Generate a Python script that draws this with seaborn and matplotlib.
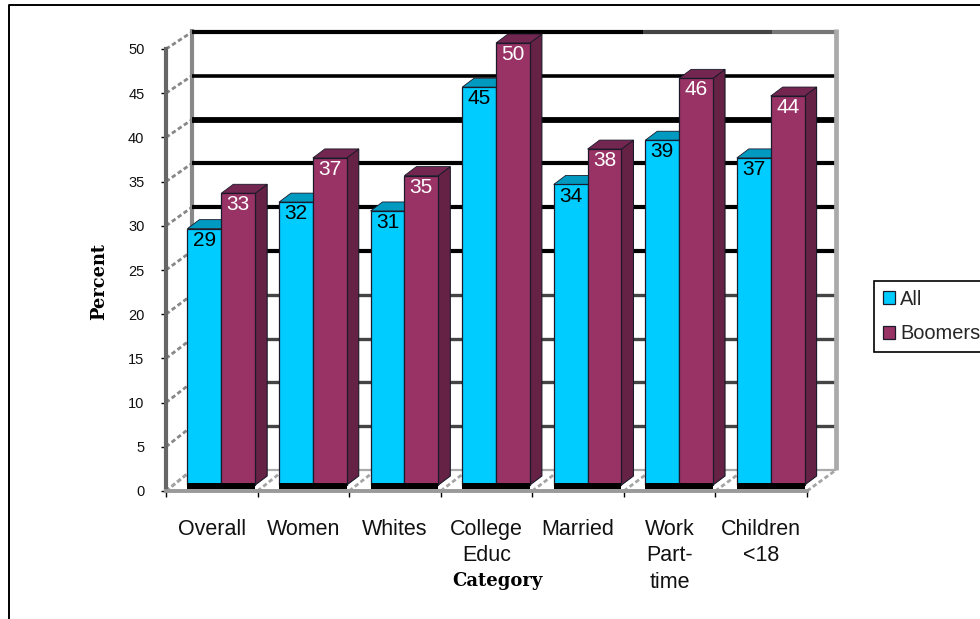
import matplotlib
matplotlib.use("Agg")
import matplotlib.pyplot as plt
import pandas as pd
import seaborn as sns
from matplotlib.lines import Line2D
from matplotlib.patches import Polygon, Rectangle
from matplotlib.transforms import Affine2D, IdentityTransform

categories = ["Overall", "Women", "Whites", "College\nEduc", "Married",
              "Work\nPart-\ntime", "Children\n<18"]
all_values = [29, 32, 31, 45, 34, 39, 37]
boomers_values = [33, 37, 35, 50, 38, 46, 44]
series_names = ["All", "Boomers"]
y_ticks = [0, 5, 10, 15, 20, 25, 30, 35, 40, 45, 50]

CYAN, CYAN_TOP = "#00CCFF", "#0099BF"
MAROON, MAROON_TOP, MAROON_SIDE = "#993366", "#732650", "#662244"
W, H = 980, 619


def box(left, top, right, bottom):
    return [left / W, 1 - bottom / H, (right - left) / W, (bottom - top) / H]


sns.set_theme(style="white")
plt.rcParams["font.family"] = ["Liberation Sans", "DejaVu Sans"]
fig = plt.figure(figsize=(W / 100, H / 100), dpi=100, facecolor="white")

# Back wall of the 3D frame, with its own gridlines
back = fig.add_axes(box(192, 32, 836, 470), zorder=1)
back.set_xlim(0, 1)
back.set_ylim(0, 50)
back.axis("off")
for v in y_ticks[1:-1]:
    dark = v > 20
    lw = {40: 4.2, 45: 2.6}.get(v, 3.0 if dark else 2.4)
    back.hlines(v, 0, 1, color="black" if dark else "#444444", lw=lw, clip_on=False, zorder=2)
# The top rule fades toward the right-hand corner
for start, stop, shade in [(0, 0.7, "black"), (0.7, 0.9, "#444444"), (0.9, 1, "#777777")]:
    back.hlines(50, start, stop, color=shade, lw=3.0, clip_on=False, zorder=2)
back.vlines([0], 0, 50.3, color="#888888", lw=3.0, clip_on=False, zorder=1)
back.vlines([1], 0, 50.3, color="#AAAAAA", lw=3.4, clip_on=False, zorder=3)

# Front plane: carries the bars, axis ticks and labels
ax = fig.add_axes(box(166, 49, 807, 491), zorder=2)
ax.patch.set_alpha(0)
df = pd.DataFrame({
    "Category": categories * 2,
    "Percent": all_values + boomers_values,
    "Series": [series_names[0]] * 7 + [series_names[1]] * 7,
})
sns.barplot(data=df, x="Category", y="Percent", hue="Series", order=categories,
            hue_order=series_names, palette=[CYAN, MAROON], width=0.74, gap=0,
            edgecolor="#1a1a2a", linewidth=0.9, saturation=1, ax=ax, legend=True, zorder=5)
ax.set_xlim(-0.5, 6.5)
ax.set_ylim(0, 50)

# Bars stand partway into the depth of the frame
bar_shift = Affine2D().translate(9.5, 6)
bar_trans = ax.transData + bar_shift
dx, dy = 12 / (641 / 7), 9 / (442 / 50)

bars = list(ax.patches)[:14]
for i, bar in enumerate(bars):
    is_all = i < 7
    x0, w, h = bar.get_x(), bar.get_width(), bar.get_height()
    bar.set_transform(bar_trans)
    bar.set_clip_on(False)
    bar.set_zorder(5 + i % 7 + (0 if is_all else 0.5))
    z = bar.get_zorder() - 0.1
    top = [(x0, h), (x0 + w, h), (x0 + w + dx, h + dy), (x0 + dx, h + dy)]
    side = [(x0 + w, 0), (x0 + w + dx, dy), (x0 + w + dx, h + dy), (x0 + w, h)]
    ax.add_patch(Polygon(side, closed=True, transform=bar_trans, clip_on=False, zorder=z,
                         fc=CYAN_TOP if is_all else MAROON_SIDE, ec="#1a1a2a", lw=0.8))
    ax.add_patch(Polygon(top, closed=True, transform=bar_trans, clip_on=False, zorder=z,
                         fc=CYAN_TOP if is_all else MAROON_TOP, ec="#1a1a2a", lw=0.6))
    if not is_all:
        ax.add_patch(Rectangle((x0 - w, -0.4), 2 * w, 0.6, transform=bar_trans,
                               clip_on=False, zorder=z + 0.2, fc="black", ec="none"))
    ax.annotate(f"{h:.0f}", (x0 + w / 2, h), xycoords=bar_trans, xytext=(0, -1.5),
                textcoords="offset points", ha="center", va="top", fontsize=15,
                color="black" if is_all else "white", zorder=20, annotation_clip=False)

# Side walls and floor join the front plane to the back wall
for v in y_ticks:
    a = ax.transData.transform((-0.5, v))
    b = back.transData.transform((0, v))
    back.add_line(Line2D([a[0], b[0]], [a[1], b[1]], transform=IdentityTransform(), clip_on=False,
                         color="#888888", lw=2.0, ls=(0, (1.6, 1.0)), zorder=1))
for k in range(8):
    a = ax.transData.transform((k - 0.5, 0))
    b = back.transData.transform((k / 7, 0))
    back.add_line(Line2D([a[0], b[0]], [a[1], b[1]], transform=IdentityTransform(), clip_on=False,
                         color="#A5A5A5", lw=2.0, ls=(0, (1.6, 1.0)), zorder=1))
back.hlines(0, 0, 1, color="#AAAAAA", lw=1.6, clip_on=False, zorder=1)

# Axes decoration
sns.despine(ax=ax, top=True, right=True)
ax.spines["left"].set(color="#666666", linewidth=3.0)
ax.spines["bottom"].set(color="#9A9A9A", linewidth=2.8)
ax.set_yticks(y_ticks)
ax.tick_params(axis="y", which="major", left=True, length=3.5, width=1, color="black",
               labelsize=10.5, pad=12, labelcolor="#111111")
ax.set_xticks(range(7), categories)
ax.set_xticks([k - 0.5 for k in range(8)], minor=True)
ax.tick_params(axis="x", which="major", length=0, pad=20, labelsize=15.5, labelcolor="#111111")
ax.tick_params(axis="x", which="minor", bottom=True, length=4.5, width=1, color="black")
for label in ax.get_xticklabels():
    label.set_linespacing(1.35)
    label.set_verticalalignment("top")

ax.set_xlabel("")
ax.set_ylabel("")
fig.text(99 / W, 1 - 281 / H, "Percent", rotation=90, ha="center", va="center",
         family="DejaVu Serif", weight="bold", fontsize=12.8, color="black")
fig.text(497 / W, 1 - 581 / H, "Category", ha="center", va="center",
         family="DejaVu Serif", weight="bold", fontsize=13, color="black")

# Legend runs up to the right edge of the canvas
handles, labels = ax.get_legend_handles_labels()
ax.get_legend().remove()
leg = ax.legend(handles, labels, loc="upper left", bbox_to_anchor=(874 / W, 1 - 281 / H),
                bbox_transform=fig.transFigure, fancybox=False, edgecolor="black", framealpha=1,
                fontsize=14.4, handlelength=0.62, handleheight=0.62, handletextpad=0.25,
                borderpad=0.45, labelspacing=0.76, borderaxespad=0)
leg.get_frame().set_linewidth(1.2)
leg.set_zorder(30)

# Outer chart frame
fig.add_artist(Line2D([9 / W, 9 / W, 1], [0, 1 - 5 / H, 1 - 5 / H], color="black", lw=1.4))

fig.savefig("out.png", dpi=100)
